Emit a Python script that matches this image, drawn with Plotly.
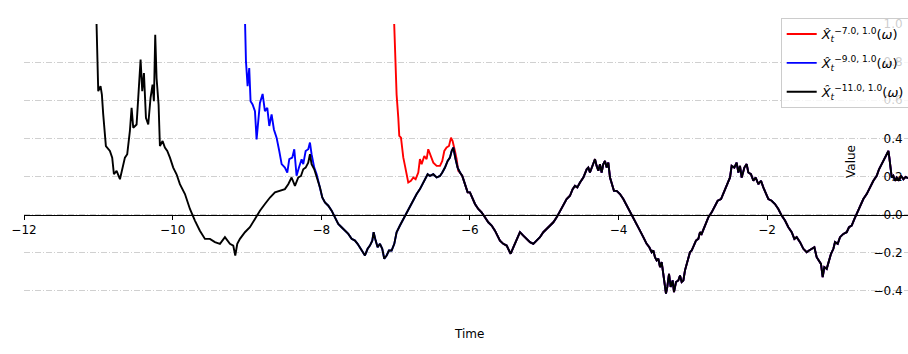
import plotly.graph_objects as go

# Estimator started at t0 = -11.0 (full path)
black_t = [
    -11.04, -11.014, -11.001, -10.97, -10.952, -10.934, -10.898, -10.844, -10.813, -10.79,
    -10.754, -10.709, -10.673, -10.642, -10.611, -10.575, -10.552, -10.53, -10.485, -10.449,
    -10.431, -10.409, -10.386, -10.359, -10.328, -10.297, -10.27, -10.252, -10.234, -10.216,
    -10.189, -10.171, -10.135, -10.104, -10.072, -10.036, -9.992, -9.947, -9.902, -9.834,
    -9.767, -9.70, -9.633, -9.565, -9.498, -9.431, -9.363, -9.296, -9.229, -9.184,
    -9.157, -9.13, -9.094, -9.027, -8.96, -8.892, -8.825, -8.758, -8.69, -8.623,
    -8.556, -8.489, -8.444, -8.399, -8.354, -8.309, -8.273, -8.242, -8.21, -8.175,
    -8.152, -8.13, -8.094, -8.062, -8.04, -8.017, -7.986, -7.95, -7.905, -7.86,
    -7.816, -7.771, -7.726, -7.681, -7.636, -7.591, -7.546, -7.511, -7.479, -7.448,
    -7.412, -7.376, -7.345, -7.313, -7.295, -7.268, -7.241, -7.21, -7.179, -7.152,
    -7.12, -7.089, -7.053, -7.017, -6.986, -6.941, -6.896, -6.851, -6.806, -6.761,
    -6.716, -6.672, -6.649, -6.604, -6.568, -6.537, -6.492, -6.447, -6.402, -6.371,
    -6.335, -6.299, -6.268, -6.245, -6.223, -6.192, -6.165, -6.133, -6.102, -6.066,
    -6.03, -5.999, -5.967, -5.931, -5.887, -5.842, -5.797, -5.752, -5.707, -5.662,
    -5.595, -5.55, -5.505, -5.483, -5.451, -5.415, -5.37, -5.326, -5.281, -5.236,
    -5.191, -5.146, -5.101, -5.057, -5.012, -4.967, -4.922, -4.877, -4.832, -4.787,
    -4.743, -4.698, -4.653, -4.617, -4.586, -4.554, -4.518, -4.473, -4.428, -4.406,
    -4.384, -4.348, -4.316, -4.294, -4.271, -4.249, -4.227, -4.204, -4.182, -4.159,
    -4.137, -4.114, -4.092, -4.061, -4.025, -3.98, -3.935, -3.89, -3.845, -3.80,
    -3.755, -3.711, -3.666, -3.621, -3.585, -3.553, -3.531, -3.509, -3.486, -3.464,
    -3.441, -3.419, -3.397, -3.374, -3.361, -3.343, -3.32, -3.298, -3.271, -3.253,
    -3.226, -3.195, -3.172, -3.15, -3.127, -3.105, -3.082, -3.06, -3.038, -3.015,
    -2.993, -2.957, -2.926, -2.903, -2.881, -2.836, -2.791, -2.746, -2.701, -2.665,
    -2.62, -2.576, -2.531, -2.499, -2.477, -2.441, -2.41, -2.387, -2.365, -2.342,
    -2.306, -2.275, -2.253, -2.217, -2.185, -2.154, -2.118, -2.082, -2.051, -2.019,
    -1.983, -1.939, -1.894, -1.849, -1.804, -1.759, -1.714, -1.669, -1.633, -1.602,
    -1.557, -1.512, -1.467, -1.436, -1.40, -1.364, -1.333, -1.301, -1.275, -1.252,
    -1.23, -1.198, -1.176, -1.14, -1.108, -1.086, -1.05, -1.019, -0.974, -0.929,
    -0.898, -0.862, -0.826, -0.794, -0.75, -0.705, -0.66, -0.615, -0.57, -0.525,
    -0.494, -0.458, -0.422, -0.391, -0.368, -0.355, -0.337, -0.323, -0.301, -0.279,
    -0.256, -0.225, -0.198, -0.166, -0.135, -0.104,
]
black_v = [
    1.25, 0.822, 0.648, 0.674, 0.630, 0.526, 0.360, 0.334, 0.299, 0.212,
    0.230, 0.186, 0.247, 0.299, 0.317, 0.439, 0.560, 0.456, 0.473, 0.665,
    0.813, 0.648, 0.743, 0.508, 0.473, 0.613, 0.682, 0.595, 0.943, 0.717,
    0.578, 0.360, 0.386, 0.352, 0.334, 0.299, 0.247, 0.212, 0.160, 0.108,
    0.030, -0.031, -0.084, -0.127, -0.127, -0.144, -0.153, -0.118, -0.153, -0.162,
    -0.214, -0.153, -0.127, -0.092, -0.066, -0.023, 0.021, 0.056, 0.090, 0.117,
    0.125, 0.134, 0.160, 0.195, 0.151, 0.195, 0.203, 0.238, 0.247, 0.273,
    0.317, 0.265, 0.238, 0.203, 0.178, 0.143, 0.090, 0.064, 0.047, 0.021,
    -0.014, -0.049, -0.066, -0.084, -0.101, -0.127, -0.136, -0.153, -0.171, -0.188,
    -0.214, -0.179, -0.162, -0.136, -0.092, -0.136, -0.171, -0.153, -0.179, -0.231,
    -0.214, -0.188, -0.188, -0.153, -0.092, -0.057, -0.023, 0.012, 0.047, 0.081,
    0.108, 0.134, 0.151, 0.186, 0.212, 0.203, 0.212, 0.195, 0.203, 0.221,
    0.247, 0.282, 0.299, 0.334, 0.352, 0.291, 0.247, 0.221, 0.203, 0.160,
    0.117, 0.117, 0.090, 0.056, 0.030, 0.012, -0.014, -0.040, -0.057, -0.084,
    -0.136, -0.153, -0.162, -0.179, -0.205, -0.171, -0.127, -0.092, -0.110, -0.127,
    -0.144, -0.153, -0.136, -0.118, -0.092, -0.075, -0.057, -0.040, -0.014, 0.021,
    0.047, 0.082, 0.099, 0.134, 0.151, 0.143, 0.169, 0.195, 0.238, 0.247,
    0.221, 0.256, 0.291, 0.256, 0.230, 0.265, 0.221, 0.265, 0.282, 0.247,
    0.273, 0.195, 0.160, 0.125, 0.125, 0.108, 0.082, 0.047, 0.012, -0.023,
    -0.057, -0.084, -0.118, -0.153, -0.171, -0.197, -0.188, -0.223, -0.240, -0.231,
    -0.275, -0.249, -0.310, -0.371, -0.414, -0.379, -0.310, -0.379, -0.345, -0.406,
    -0.353, -0.345, -0.319, -0.353, -0.345, -0.292, -0.258, -0.223, -0.197, -0.188,
    -0.171, -0.136, -0.127, -0.092, -0.101, -0.057, -0.014, 0.012, 0.047, 0.073,
    0.082, 0.125, 0.160, 0.195, 0.256, 0.247, 0.273, 0.221, 0.256, 0.195,
    0.247, 0.265, 0.221, 0.212, 0.178, 0.195, 0.160, 0.178, 0.143, 0.117,
    0.082, 0.073, 0.056, 0.030, -0.005, -0.031, -0.066, -0.092, -0.127, -0.118,
    -0.144, -0.179, -0.197, -0.188, -0.179, -0.171, -0.223, -0.240, -0.258, -0.327,
    -0.275, -0.284, -0.249, -0.205, -0.179, -0.144, -0.153, -0.118, -0.101, -0.092,
    -0.066, -0.057, -0.023, 0.003, 0.047, 0.082, 0.108, 0.143, 0.178, 0.204,
    0.238, 0.265, 0.291, 0.317, 0.334, 0.299, 0.230, 0.195, 0.204, 0.178,
    0.195, 0.178, 0.204, 0.186, 0.198, 0.191,
]

# Estimator started at t0 = -9.0: its own early path, then it joins the t0 = -11.0 path
blue_head_t = [
    -9.04, -9.013, -8.991, -8.969, -8.951, -8.924, -8.892, -8.87, -8.825, -8.789,
    -8.758, -8.726, -8.699, -8.668, -8.637, -8.601, -8.565, -8.533, -8.489, -8.457,
    -8.43, -8.39, -8.363, -8.332, -8.30, -8.264, -8.242, -8.21, -8.175, -8.152,
    -8.13, -8.094, -8.062,
]
blue_head_v = [
    1.25, 0.804, 0.674, 0.769, 0.595, 0.578, 0.543, 0.395, 0.586, 0.633,
    0.543, 0.560, 0.465, 0.526, 0.447, 0.404, 0.334, 0.265, 0.247, 0.221,
    0.291, 0.299, 0.343, 0.204, 0.247, 0.291, 0.265, 0.334, 0.343, 0.378,
    0.317, 0.247, 0.212,
]
blue_join = -8.04

# Estimator started at t0 = -7.0
red_head_t = [
    -7.04, -7.008, -6.986, -6.963, -6.95, -6.927, -6.918, -6.896, -6.873, -6.851,
    -6.829, -6.793, -6.761, -6.73, -6.694, -6.672, -6.649, -6.613, -6.582, -6.56,
    -6.524, -6.492, -6.447, -6.402, -6.371, -6.344, -6.313, -6.281, -6.254, -6.232,
    -6.201, -6.178, -6.156,
]
red_head_v = [
    1.25, 0.839, 0.630, 0.508, 0.413, 0.404, 0.360, 0.300, 0.256, 0.204,
    0.169, 0.178, 0.195, 0.186, 0.221, 0.291, 0.265, 0.308, 0.291, 0.343,
    0.300, 0.273, 0.256, 0.256, 0.282, 0.334, 0.352, 0.360, 0.404, 0.386,
    0.334, 0.291, 0.230,
]
red_join = -6.133

x_ticks = [-12, -10, -8, -6, -4, -2]
y_ticks = [-0.4, -0.2, 0.0, 0.2, 0.4, 0.6, 0.8, 1.0]


def joined(head_t, head_v, t_join):
    tail = [(t, v) for t, v in zip(black_t, black_v) if t >= t_join]
    return head_t + [p[0] for p in tail], head_v + [p[1] for p in tail]


blue_t, blue_v = joined(blue_head_t, blue_head_v, blue_join)
red_t, red_v = joined(red_head_t, red_head_v, red_join)


def label(a):
    return f"<i>X\u0302</i><sub><i>t</i></sub><sup>\u2212{a}, 1.0</sup>(<i>\u03c9</i>)"


fig = go.Figure()
for name, t, v, color in [
    (label("7.0"), red_t, red_v, "#ff0000"),
    (label("9.0"), blue_t, blue_v, "#0000ff"),
    (label("11.0"), black_t, black_v, "#000000"),
]:
    fig.add_trace(go.Scatter(x=t, y=v, mode="lines", name=name, legendgroup=name,
                             line=dict(color=color, width=1.9)))

fig.update_layout(
    width=908, height=354,
    margin=dict(l=24, r=0, t=24, b=44, autoexpand=False),
    plot_bgcolor="white", paper_bgcolor="white",
    font=dict(family="DejaVu Sans", size=12, color="black"),
    legend=dict(x=0.856, xanchor="left", y=1.021, yanchor="top",
                bgcolor="rgba(255,255,255,0.8)", bordercolor="#cccccc", borderwidth=1,
                font=dict(size=13), tracegroupgap=9, itemwidth=30),
    xaxis=dict(range=[-12, -0.104], tickvals=x_ticks, anchor="free", position=1 / 3,
               showline=True, linecolor="black", linewidth=1, ticks="outside",
               ticklen=4, tickcolor="black", showgrid=False, zeroline=False,
               automargin=False),
    yaxis=dict(range=[-0.5, 1.0], tickvals=y_ticks, tickformat=".1f", anchor="free",
               position=1.0, side="left", showline=False, ticks="outside", ticklen=3,
               tickcolor="rgba(0,0,0,0)", showgrid=True, gridcolor="#d0d0d0",
               griddash="6px,2px,1px,2px", gridwidth=1, zeroline=False,
               automargin=False),
    annotations=[
        dict(text="Time", x=0.503, y=-0.115, xref="paper", yref="paper",
             showarrow=False, font=dict(size=12)),
        dict(text="Value", x=0.9457, y=0.521, xref="paper", yref="paper",
             showarrow=False, textangle=-90, font=dict(size=12)),
    ],
)

fig.write_html("out.html")
